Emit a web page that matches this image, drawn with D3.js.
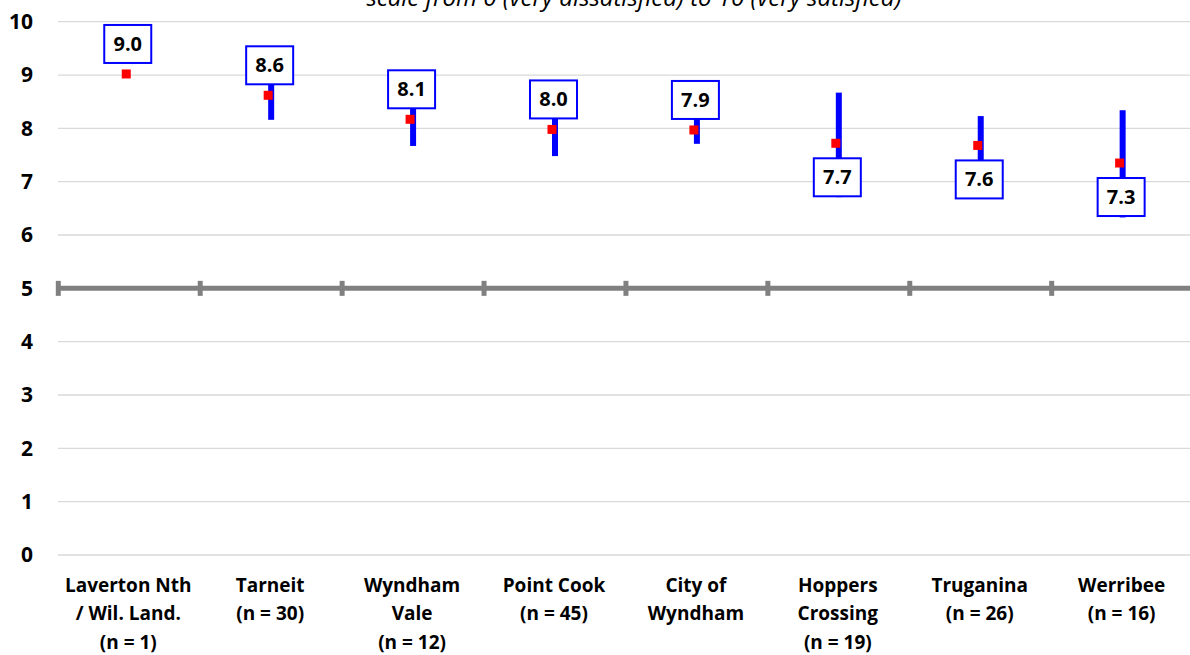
<!DOCTYPE html>
<html>
<head>
<meta charset="utf-8">
<script src="https://cdn.jsdelivr.net/npm/d3@7"></script>
<style>
  html, body { margin: 0; padding: 0; background: #fff; }
  svg { display: block; }
</style>
</head>
<body>
<svg id="chart" width="1190" height="655"></svg>
<script>
const categories = [
  ["Laverton Nth", "/ Wil. Land.", "(n = 1)"],
  ["Tarneit", "(n = 30)"],
  ["Wyndham", "Vale", "(n = 12)"],
  ["Point Cook", "(n = 45)"],
  ["City of", "Wyndham"],
  ["Hoppers", "Crossing", "(n = 19)"],
  ["Truganina", "(n = 26)"],
  ["Werribee", "(n = 16)"]
];
const means      = [9.02, 8.62, 8.17, 7.98, 7.97, 7.72, 7.68, 7.35];
const lowerBound = [null, 8.16, 7.67, 7.48, 7.71, 6.71, 7.13, 6.33];
const upperBound = [null, 9.08, 8.67, 8.48, 8.23, 8.67, 8.23, 8.34];
const labelText  = ["9.0", "8.6", "8.1", "8.0", "7.9", "7.7", "7.6", "7.3"];
const labelSide  = ["above", "above", "above", "above", "above", "below", "below", "below"];
const yTicks     = [0, 1, 2, 3, 4, 5, 6, 7, 8, 9, 10];
const referenceValue = 5;
const subtitle = "scale from 0 (very dissatisfied) to 10 (very satisfied)";

const svg = d3.select("#chart");
const FONT = "'Open Sans', Lato, sans-serif";

const x = d3.scaleBand()
  .domain(categories.map((d, i) => i))
  .range([58.3, 1193.6])
  .paddingInner(0).paddingOuter(0);
const y = d3.scaleLinear().domain([0, 10]).range([555, 21.7]);
const cx = i => x(i) + x.bandwidth() / 2;

// subtitle (cut off at the top, as in the reference)
svg.append("text")
  .attr("x", 634).attr("y", 5.5)
  .attr("text-anchor", "middle")
  .attr("font-family", FONT)
  .attr("font-style", "italic")
  .attr("font-size", 24)
  .attr("fill", "#000")
  .text(subtitle);

// gridlines
svg.append("g").selectAll("line")
  .data(yTicks.filter(t => t !== referenceValue))
  .join("line")
  .attr("x1", 58).attr("x2", 1190)
  .attr("y1", d => y(d)).attr("y2", d => y(d))
  .attr("stroke", "#d9d9d9").attr("stroke-width", 1.3);

// y axis labels
const yAxis = d3.axisLeft(y).tickValues(yTicks).tickSize(0).tickPadding(0).tickFormat(d3.format("d"));
const yg = svg.append("g").attr("transform", "translate(33,0)").call(yAxis);
yg.select(".domain").remove();
yg.selectAll("text")
  .attr("font-family", FONT).attr("font-weight", "bold")
  .attr("font-size", 21).attr("fill", "#000");

// reference axis line at 5 with category tick marks
const refG = svg.append("g");
refG.append("line")
  .attr("x1", 58.3).attr("x2", 1190)
  .attr("y1", y(referenceValue)).attr("y2", y(referenceValue))
  .attr("stroke", "#808080").attr("stroke-width", 5);
refG.selectAll("line.tick")
  .data(d3.range(categories.length + 1))
  .join("line").attr("class", "tick")
  .attr("x1", i => i < categories.length ? x(i) : x(i - 1) + x.bandwidth())
  .attr("x2", i => i < categories.length ? x(i) : x(i - 1) + x.bandwidth())
  .attr("y1", y(referenceValue) - 7.5).attr("y2", y(referenceValue) + 7.5)
  .attr("stroke", "#808080").attr("stroke-width", 5);

// x category labels
const xg = svg.append("g");
categories.forEach((lines, i) => {
  const t = xg.append("text")
    .attr("x", cx(i) - 1).attr("y", 592)
    .attr("text-anchor", "middle")
    .attr("font-family", FONT).attr("font-weight", "bold")
    .attr("font-size", 19).attr("fill", "#000");
  lines.forEach((ln, k) => {
    t.append("tspan").attr("x", cx(i) - 1).attr("dy", k === 0 ? 0 : 28.3).text(ln);
  });
});

// error bars
const idx = d3.range(categories.length);
svg.append("g").selectAll("line")
  .data(idx.filter(i => lowerBound[i] !== null))
  .join("line")
  .attr("x1", i => cx(i)).attr("x2", i => cx(i))
  .attr("y1", i => y(upperBound[i])).attr("y2", i => y(lowerBound[i]))
  .attr("stroke", "#0000ff").attr("stroke-width", 6);

// mean markers
svg.append("g").selectAll("rect")
  .data(idx)
  .join("rect")
  .attr("x", i => cx(i) - 3 - 4.5)
  .attr("y", i => y(means[i]) - 4.5)
  .attr("width", 9).attr("height", 9)
  .attr("fill", "#ff0000");

// value label boxes
const BW = 47, BH = 38;
const lg = svg.append("g").selectAll("g")
  .data(idx)
  .join("g")
  .attr("transform", i => {
    const top = labelSide[i] === "above" ? y(means[i]) - 11 - BH : y(means[i]) + 15;
    return `translate(${cx(i) - 1.5 - BW / 2},${top})`;
  });
lg.append("rect")
  .attr("width", BW).attr("height", BH)
  .attr("fill", "#fff").attr("stroke", "#0000ff").attr("stroke-width", 2);
lg.append("text")
  .attr("x", BW / 2).attr("y", BH / 2 + 7)
  .attr("text-anchor", "middle")
  .attr("font-family", FONT).attr("font-weight", "bold")
  .attr("font-size", 20).attr("fill", "#000")
  .text(i => labelText[i]);
</script>
</body>
</html>
